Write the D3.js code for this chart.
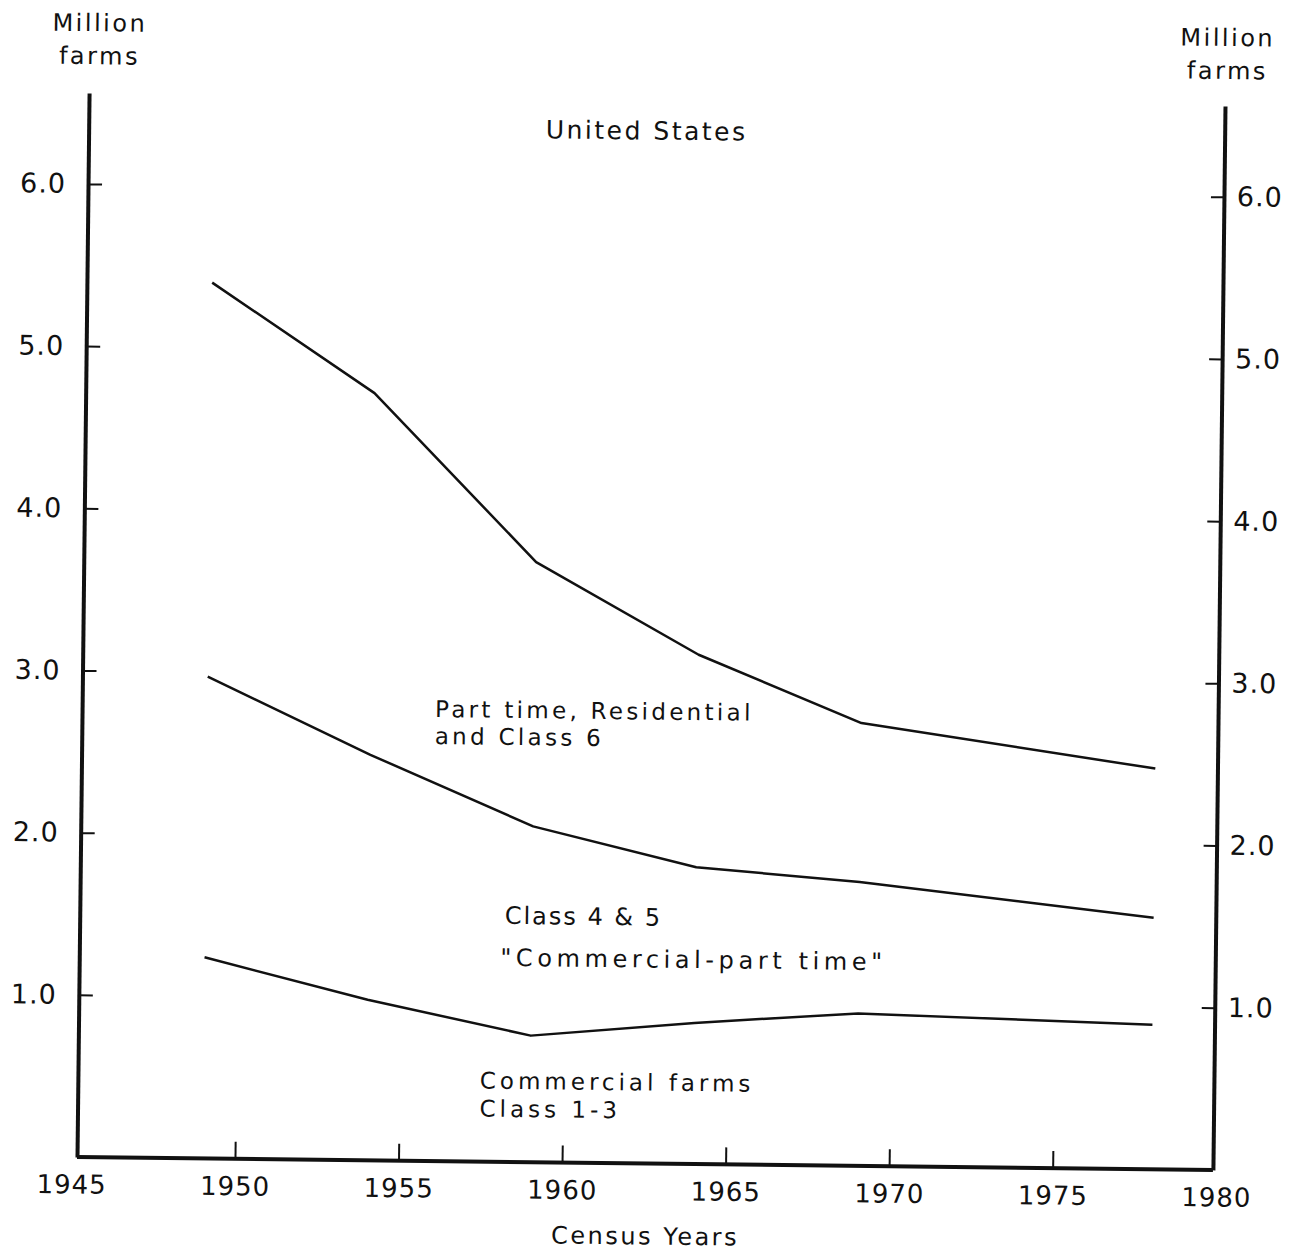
<!DOCTYPE html>
<html><head><meta charset="utf-8">
<script src="https://cdn.jsdelivr.net/npm/d3@7"></script>
<style>
body{margin:0;background:#fff}
svg{display:block}
text{font-family:"DejaVu Sans",sans-serif;fill:#111}
</style>
</head><body><svg id="chart" width="1297" height="1255"></svg>
<script>
// Census years and cumulative (stacked) boundaries, million farms
const years = [1949, 1954, 1959, 1964, 1969, 1978];
const partTimeResidentialClass6 = [5.40, 4.73, 3.70, 3.14, 2.73, 2.47]; // top line (all farms)
const class4and5 = [2.97, 2.50, 2.07, 1.83, 1.75, 1.55];               // middle line
const commercialClass1to3 = [1.24, 0.99, 0.78, 0.87, 0.94, 0.89];       // bottom line
const xTicks = [1945, 1950, 1955, 1960, 1965, 1970, 1975, 1980];
const yTicks = [1, 2, 3, 4, 5, 6];
const titleText = "United States";
const yLabelLines = ["Million", "farms"];
const xLabelText = "Census Years";
const seriesLabels = [
  ["Part time, Residential", "and Class 6"],
  ["Class 4 & 5", "\"Commercial-part time\""],
  ["Commercial farms", "Class 1-3"]
];

const L = 77, R = 1213, T = 93, B = 1157;
const svg = d3.select("#chart");
svg.append("rect").attr("width", 1297).attr("height", 1255).attr("fill", "#fff");
// the scanned original is slightly rotated
const g = svg.append("g").attr("transform", `rotate(0.65, ${L}, ${B})`);

const x = d3.scaleLinear().domain([1945.17, 1979.9]).range([L, R]);
const y = d3.scaleLinear().domain([0, 6.56]).range([B, T]);

const fmt = d3.format(".1f");

const styleAxis = (sel, w) => {
  sel.select(".domain").attr("stroke", "#111").attr("stroke-width", w);
  sel.selectAll(".tick line").attr("stroke", "#111").attr("stroke-width", 2);
  sel.selectAll(".tick text").attr("fill", "#111")
    .style("font-family", "\"DejaVu Sans\", sans-serif");
};

const gl = g.append("g").attr("transform", `translate(${L},0)`)
  .call(d3.axisLeft(y).tickValues(yTicks).tickFormat(fmt).tickSize(-14).tickSizeOuter(0).tickPadding(22));
styleAxis(gl, 4);
gl.selectAll(".tick text").attr("font-size", 27).attr("letter-spacing", 1);

const gr = g.append("g").attr("transform", `translate(${R},0)`)
  .call(d3.axisRight(y).tickValues(yTicks).tickFormat(fmt).tickSize(-13).tickSizeOuter(0).tickPadding(13));
styleAxis(gr, 4);
gr.selectAll(".tick text").attr("font-size", 27).attr("letter-spacing", 1);

const gb = g.append("g").attr("transform", `translate(0,${B})`)
  .call(d3.axisBottom(x).tickValues(xTicks).tickFormat(d3.format("d")).tickSize(-17).tickSizeOuter(0).tickPadding(18));
styleAxis(gb, 4);
gb.selectAll(".tick text").attr("font-size", 26).attr("letter-spacing", 1);
gb.selectAll(".tick line").filter(d => d === 1945 || d === 1980).remove();
gb.select(".domain").attr("d", `M0,0H${R}`).attr("transform", null);
gb.select(".domain").attr("d", `M${L},0H${R}`);

const line = d3.line().x(d => x(d[0])).y(d => y(d[1]));
[partTimeResidentialClass6, class4and5, commercialClass1to3].forEach(vals => {
  g.append("path")
    .datum(years.map((yr, i) => [yr, vals[i]]))
    .attr("d", line)
    .attr("fill", "none")
    .attr("stroke", "#111")
    .attr("stroke-width", 2.5)
    .attr("stroke-linejoin", "round");
});

const txt = (s, tx, ty, size, anchor, ls) => g.append("text")
  .attr("x", tx).attr("y", ty).attr("font-size", size)
  .attr("text-anchor", anchor || "start").attr("letter-spacing", ls == null ? 2 : ls).text(s);

// axis titles
yLabelLines.forEach((s, i) => {
  txt(s, 87, 31 + i * 33, 24, "middle", 2.5);
  txt(s, 1215, 33 + i * 33, 24, "middle", 2.5);
});
txt(titleText, 635, 133, 25, "middle", 2.5);
txt(xLabelText, 646, 1238, 24, "middle", 2.5);

// series labels
txt(seriesLabels[0][0], 430, 713, 23, "start", 3.3);
txt(seriesLabels[0][1], 430, 740, 23, "start", 3.3);
txt(seriesLabels[1][0], 502, 919, 24, "start", 2);
txt(seriesLabels[1][1], 498, 961, 24, "start", 4.6);
txt(seriesLabels[2][0], 479, 1084, 23, "start", 4);
txt(seriesLabels[2][1], 479, 1112, 23, "start", 4);
</script>
</body></html>
